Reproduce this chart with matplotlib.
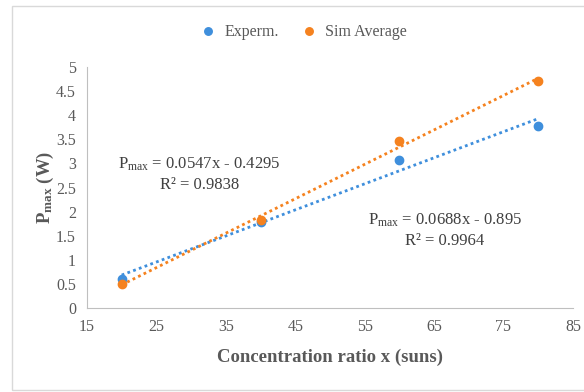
import matplotlib
matplotlib.use('Agg')
import matplotlib.pyplot as plt
import numpy as np
from matplotlib.patches import Rectangle

plt.rcParams['font.family'] = 'Liberation Serif'
plt.rcParams['mathtext.fontset'] = 'custom'
plt.rcParams['mathtext.rm'] = 'Liberation Serif'
plt.rcParams['mathtext.it'] = 'Liberation Serif:italic'
plt.rcParams['mathtext.bf'] = 'Liberation Serif:bold'

# Data
conc = [20, 40, 60, 80]
experm = [0.60, 1.78, 3.08, 3.77]
sim_avg = [0.50, 1.82, 3.47, 4.71]

x_ticks = [15, 25, 35, 45, 55, 65, 75, 85]
y_ticks = [0, 0.5, 1, 1.5, 2, 2.5, 3, 3.5, 4, 4.5, 5]

eq_exp = '$\\mathregular{P_{max}}$ = 0.0547x - 0.4295\nR² = 0.9838'
eq_sim = '$\\mathregular{P_{max}}$ = 0.0688x - 0.895\nR² = 0.9964'

# Colors
c_exp = '#3f8fdc'
c_sim = '#f5821f'
txt = '#595959'

fig = plt.figure(figsize=(5.84, 3.92), dpi=100)
ax = fig.add_axes([0.149, 0.214, 0.832, 0.615])

# chart border
fig.patches.append(Rectangle((12 / 584, 2 / 392), 1.0, 384 / 392, transform=fig.transFigure,
                             fill=False, edgecolor='#d9d9d9', linewidth=1))

ax.plot(conc, experm, 'o', color=c_exp, markersize=6, label='Experm.', zorder=3)
ax.plot(conc, sim_avg, 'o', color=c_sim, markersize=6, label='Sim Average', zorder=3)

# linear trendlines
xs = np.array([conc[0], conc[-1]])
for ys, c in [(experm, c_exp), (sim_avg, c_sim)]:
    m, b = np.polyfit(conc, ys, 1)
    ax.plot(xs, m * xs + b, linestyle=(0, (1, 1.2)), color=c, linewidth=2)

ax.set_xlim(15, 85)
ax.set_ylim(0, 5)
ax.set_xticks(x_ticks)
ax.set_yticks(y_ticks)
ax.set_yticklabels([f'{v:g}' for v in y_ticks])
ax.tick_params(length=0, labelsize=11.5, colors=txt, pad=8)
for s in ['top', 'right']:
    ax.spines[s].set_visible(False)
for s in ['left', 'bottom']:
    ax.spines[s].set_color('#bfbfbf')

ax.set_xlabel('Concentration ratio x (suns)', fontsize=13.5, fontweight='bold', color=txt, labelpad=10)
ax.set_ylabel('$\\mathbf{P_{max}}$ (W)', fontsize=13.5, fontweight='bold', color=txt, labelpad=0)

ax.text(0.232, 0.556, eq_exp, transform=ax.transAxes, ha='center', va='center',
        fontsize=12, color='#404040', linespacing=1.35)
ax.text(0.737, 0.324, eq_sim, transform=ax.transAxes, ha='center', va='center',
        fontsize=12, color='#404040', linespacing=1.35)

fig.legend(loc='center', bbox_to_anchor=(0.513, 0.918), ncol=2, frameon=False,
           fontsize=11.5, handletextpad=0.0, columnspacing=0.9, markerscale=0.9,
           labelcolor=txt)

fig.savefig('out.png', dpi=100)
